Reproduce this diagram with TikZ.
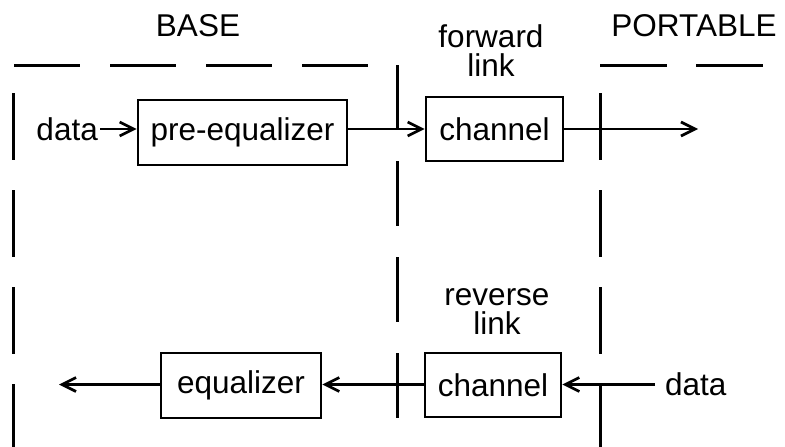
\documentclass[tikz,border=0pt]{standalone}
\usepackage{fontspec}
\setmainfont{Liberation Sans}
\usetikzlibrary{arrows.meta}
\begin{document}
\begin{tikzpicture}[x=1pt,y=-1pt,
  every node/.style={font=\fontsize{31.5}{29}\selectfont, inner sep=0pt},
  blockbox/.style={draw, line width=2.7pt, minimum width=#1, inner sep=0pt},
  lbl/.style={align=center},
  arr/.style={line width=2.7pt, -{Straight Barb[length=14pt,width=14pt,line width=2.7pt]}},
  border/.style={line width=3pt},
  ]
\useasboundingbox (0,0) rectangle (785,447);
% borders (dashed)
\draw[border, dash pattern=on 66pt off 30pt] (14,65) -- (368,65);
\draw[border, dash pattern=on 67pt off 29pt] (600,65) -- (763,65);
\draw[border, dash pattern=on 67pt off 30pt] (13,93) -- (13,447);
\draw[border, dash pattern=on 65pt off 31pt] (397,65) -- (397,419);
\draw[border, dash pattern=on 67pt off 30pt] (600,93) -- (600,447);
% labels
\node (base) at (198,26) {BASE};
\node (portable) at (694,26) {PORTABLE};
\node[lbl, anchor=south] (fwd) at (491,76.7) {forward\\link};
\node[lbl, anchor=south] (rev) at (497,335) {reverse\\link};
% forward path
\node[blockbox=209pt, minimum height=65pt] (pre) at (242.5,132.5) {pre-equalizer};
\node[blockbox=137pt, minimum height=64pt] (ch1) at (494.5,129) {channel};
\node[anchor=east] (din) at (98,129) {data};
\coordinate (fout) at (698,129);
\draw[arr] ([xshift=2pt]din.east) -- (pre.west |- din.east);
\draw[arr] (pre.east |- ch1.west) -- (ch1.west);
\draw[arr] (ch1.east) -- (fout);
% reverse path
\node[blockbox=160pt, minimum height=65pt] (eq) at (241,385.5) {equalizer};
\node[blockbox=136pt, minimum height=64pt] (ch2) at (493,385) {channel};
\node[anchor=west] (dr) at (665,384.5) {data};
\coordinate (rout) at (59,384.5);
\draw[arr] ([xshift=-10pt]dr.west) -- (ch2.east |- dr.west);
\draw[arr] (ch2.west |- dr.west) -- (eq.east |- dr.west);
\draw[arr] (eq.west |- dr.west) -- (rout);
\end{tikzpicture}
\end{document}
